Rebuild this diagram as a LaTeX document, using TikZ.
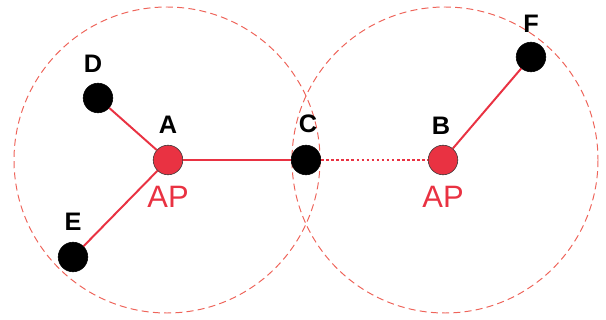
\documentclass[tikz,border=0pt]{standalone}
\usepackage{fontspec}
\setmainfont{Liberation Sans}
\definecolor{apred}{RGB}{233,50,66}
\definecolor{rangered}{RGB}{238,100,90}

\begin{document}
\begin{tikzpicture}[x=0.025cm, y=-0.025cm,
    station/.style={circle, fill=black, draw=black, minimum size=0.74cm, inner sep=0pt},
    ap/.style={circle, fill=apred, draw=black!80, thin, minimum size=0.74cm, inner sep=0pt},
    link/.style={apred, line width=1.4pt},
    tag/.style={font=\fontsize{18}{18}\selectfont\bfseries},
    aptag/.style={apred, font=\fontsize{22}{22}\selectfont}]
    \useasboundingbox (0,0) rectangle (606,320);
    % The two coverage ranges.
        \draw[rangered, line width=0.7pt, dash pattern=on 5pt off 3pt] (167,160) circle (153);
        \draw[rangered, line width=0.7pt, dash pattern=on 5pt off 3pt] (445,160) circle (153);
    % Below nodes are the stations.
        \node[ap] (a) at (168,160) {};
        \node[ap] (b) at (443,160) {};
        \node[station] (c) at (306,160) {};
        \node[station] (d) at (98,98) {};
        \node[station] (e) at (73,257) {};
        \node[station] (f) at (531,57) {};
    % These draw the links.
        \draw[link] (a) -- (d);
        \draw[link] (a) -- (e);
        \draw[link] (a) -- (c);
        \draw[link, line width=1.8pt, dash pattern=on 1.8pt off 1.8pt] (c) -- (b);
        \draw[link] (b) -- (f);
    % Below nodes are the labels.
        \node[tag] (la) at (168,125) {A};
        \node[tag] (lb) at (441,126) {B};
        \node[tag] (lc) at (308,124) {C};
        \node[tag] (ld) at (93,64) {D};
        \node[tag] (le) at (73,222) {E};
        \node[tag] (lf) at (531,24) {F};
        \node[aptag] (apa) at (168,197) {AP};
        \node[aptag] (apb) at (443,197) {AP};
\end{tikzpicture}
\end{document}
